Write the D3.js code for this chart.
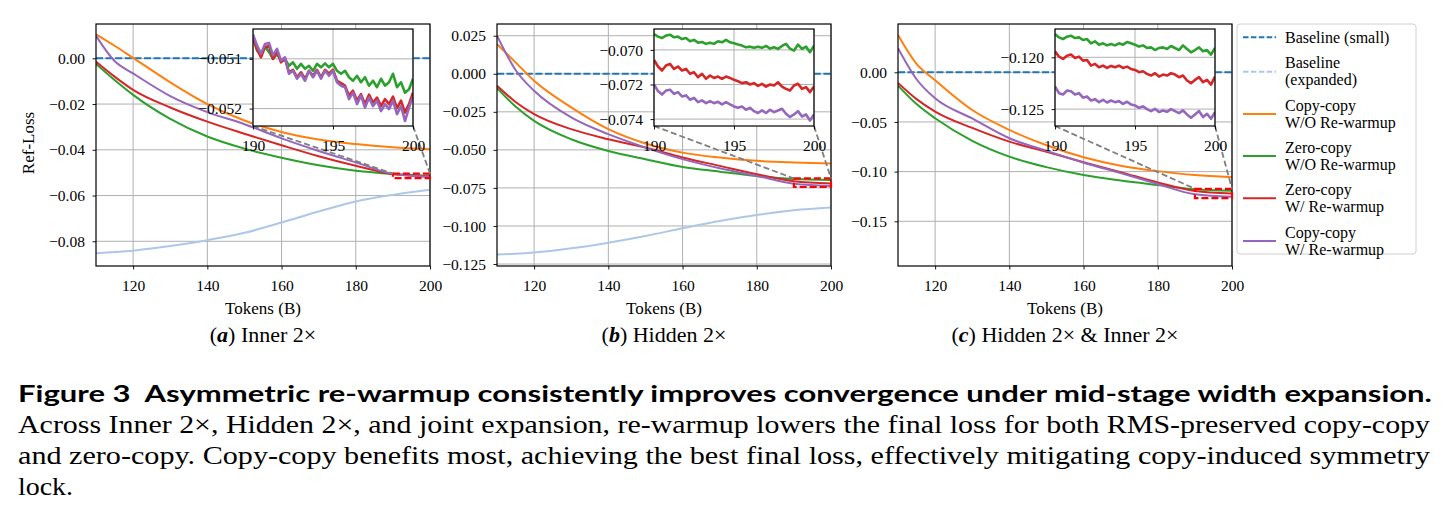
<!DOCTYPE html>
<html>
<head>
<meta charset="utf-8">
<script src="https://cdn.jsdelivr.net/npm/d3@7"></script>
<style>
  body { margin: 0; background: #fff; }
  svg text { font-family: "Liberation Serif", "Times New Roman", serif; fill: #000; }
</style>
</head>
<body>
<div id="chart"></div>
<script>
// ---- data ----
var tokens = [110, 115, 120, 130, 140, 150, 160, 170, 180, 190, 200];
var baselineSmall = [0, 0];                 // flat reference at x = 110 and 200

// (a) Inner 2x
var aCopyNoRw = [0.0105, 0.0055, 0.0002, -0.0105, -0.0200, -0.0272, -0.0322, -0.0355, -0.0375, -0.0389, -0.0398];
var aZeroNoRw = [-0.0025, -0.0095, -0.0160, -0.0265, -0.0342, -0.0395, -0.0435, -0.0468, -0.0492, -0.0506, -0.0514];
var aZeroRw   = [-0.0015, -0.0080, -0.0138, -0.0215, -0.0277, -0.0330, -0.0380, -0.0428, -0.0470, -0.0506, -0.0517];
var aCopyRw   = [0.0098, -0.0012, -0.0066, -0.0165, -0.0235, -0.0288, -0.0350, -0.0405, -0.0455, -0.0505, -0.0518];
var aBaseExp  = [-0.0852, -0.0847, -0.0841, -0.0821, -0.0795, -0.0763, -0.0718, -0.0670, -0.0626, -0.0597, -0.0575];

// (b) Hidden 2x
var bCopyNoRw = [0.0195, 0.0075, -0.0046, -0.0221, -0.0364, -0.0458, -0.0518, -0.0550, -0.0572, -0.0583, -0.0590];
var bZeroNoRw = [-0.0094, -0.0215, -0.0309, -0.0430, -0.0507, -0.0561, -0.0612, -0.0643, -0.0672, -0.0691, -0.0698];
var bZeroRw   = [-0.0079, -0.0185, -0.0265, -0.0364, -0.0430, -0.0485, -0.0550, -0.0605, -0.0660, -0.0706, -0.0721];
var bCopyRw   = [0.0250, 0.0025, -0.0112, -0.0287, -0.0397, -0.0485, -0.0561, -0.0621, -0.0671, -0.0722, -0.0737];
var bBaseExp  = [-0.1187, -0.1183, -0.1175, -0.1147, -0.1110, -0.1066, -0.1015, -0.0967, -0.0928, -0.0897, -0.0879];

// (c) Hidden 2x & Inner 2x
var cCopyNoRw = [0.0376, 0.0085, -0.0080, -0.0380, -0.0580, -0.0735, -0.0855, -0.0940, -0.0995, -0.1035, -0.1057];
var cZeroNoRw = [-0.0134, -0.0320, -0.0463, -0.0690, -0.0849, -0.0955, -0.1035, -0.1090, -0.1135, -0.1178, -0.1193];
var cZeroRw   = [-0.0107, -0.0270, -0.0395, -0.0560, -0.0698, -0.0800, -0.0905, -0.1005, -0.1110, -0.1194, -0.1219];
var cCopyRw   = [0.0242, -0.0070, -0.0262, -0.0465, -0.0664, -0.0790, -0.0910, -0.1015, -0.1125, -0.1228, -0.1253];
var cBaseExp  = [-0.1829, -0.1823, -0.1815, -0.1795, -0.1755, -0.1705, -0.1638, -0.1570, -0.1510, -0.1470, -0.1446];

// zoomed insets, 190..200 every 0.25 B tokens
var insetTokens = d3.range(0, 41).map(function(i) { return 190 + i * 0.25; });

var aInZeroNoRw = [-0.05059, -0.05083, -0.05093, -0.05076, -0.05086, -0.05100, -0.05090, -0.05103, -0.05100, -0.05114,
  -0.05107, -0.05120, -0.05110, -0.05120, -0.05114, -0.05124, -0.05110, -0.05117, -0.05109, -0.05117,
  -0.05110, -0.05124, -0.05130, -0.05124, -0.05137, -0.05144, -0.05134, -0.05147, -0.05137, -0.05154,
  -0.05144, -0.05157, -0.05140, -0.05154, -0.05147, -0.05130, -0.05157, -0.05147, -0.05168, -0.05161, -0.05140];
var aInZeroRw = [-0.05056, -0.05080, -0.05097, -0.05076, -0.05074, -0.05100, -0.05086, -0.05107, -0.05100, -0.05127,
  -0.05122, -0.05137, -0.05127, -0.05140, -0.05124, -0.05134, -0.05122, -0.05137, -0.05122, -0.05130,
  -0.05122, -0.05144, -0.05149, -0.05154, -0.05174, -0.05164, -0.05184, -0.05171, -0.05191, -0.05172,
  -0.05188, -0.05178, -0.05195, -0.05181, -0.05191, -0.05176, -0.05199, -0.05184, -0.05208, -0.05191, -0.05168];
var aInCopyRw = [-0.05051, -0.05073, -0.05090, -0.05070, -0.05068, -0.05093, -0.05080, -0.05103, -0.05097, -0.05130,
  -0.05124, -0.05140, -0.05130, -0.05144, -0.05124, -0.05137, -0.05124, -0.05140, -0.05124, -0.05134,
  -0.05124, -0.05147, -0.05154, -0.05157, -0.05181, -0.05168, -0.05191, -0.05174, -0.05198, -0.05178,
  -0.05195, -0.05184, -0.05205, -0.05191, -0.05201, -0.05184, -0.05211, -0.05195, -0.05225, -0.05198, -0.05176];

var bInZeroNoRw = [-0.06908, -0.06923, -0.06931, -0.06917, -0.06912, -0.06927, -0.06923, -0.06937, -0.06931, -0.06950,
  -0.06942, -0.06958, -0.06954, -0.06965, -0.06958, -0.06965, -0.06950, -0.06956, -0.06942, -0.06956,
  -0.06962, -0.06969, -0.06975, -0.06985, -0.06981, -0.06988, -0.06981, -0.06988, -0.06977, -0.06992,
  -0.06985, -0.06994, -0.06977, -0.06965, -0.06992, -0.07004, -0.06969, -0.06994, -0.06981, -0.07013, -0.06975];
var bInZeroRw = [-0.07058, -0.07096, -0.07119, -0.07090, -0.07081, -0.07110, -0.07096, -0.07119, -0.07110, -0.07138,
  -0.07129, -0.07158, -0.07138, -0.07167, -0.07148, -0.07162, -0.07154, -0.07167, -0.07154, -0.07162,
  -0.07173, -0.07181, -0.07192, -0.07187, -0.07200, -0.07192, -0.07208, -0.07196, -0.07212, -0.07200,
  -0.07206, -0.07187, -0.07212, -0.07225, -0.07235, -0.07206, -0.07196, -0.07225, -0.07215, -0.07244, -0.07212];
var bInCopyRw = [-0.07200, -0.07238, -0.07258, -0.07235, -0.07230, -0.07254, -0.07244, -0.07269, -0.07263, -0.07288,
  -0.07277, -0.07302, -0.07292, -0.07308, -0.07296, -0.07308, -0.07300, -0.07315, -0.07302, -0.07315,
  -0.07327, -0.07335, -0.07327, -0.07346, -0.07335, -0.07354, -0.07365, -0.07350, -0.07365, -0.07346,
  -0.07360, -0.07350, -0.07340, -0.07369, -0.07388, -0.07373, -0.07354, -0.07385, -0.07373, -0.07408, -0.07373];

var cInZeroNoRw = [-0.11776, -0.11808, -0.11824, -0.11801, -0.11792, -0.11814, -0.11808, -0.11833, -0.11824, -0.11865,
  -0.11846, -0.11878, -0.11865, -0.11885, -0.11872, -0.11885, -0.11865, -0.11878, -0.11853, -0.11865,
  -0.11878, -0.11897, -0.11885, -0.11910, -0.11904, -0.11930, -0.11910, -0.11904, -0.11920, -0.11891,
  -0.11910, -0.11930, -0.11885, -0.11920, -0.11952, -0.11930, -0.11904, -0.11942, -0.11930, -0.11974, -0.11910];
var cInZeroRw = [-0.11942, -0.11994, -0.12016, -0.11984, -0.11974, -0.12006, -0.11994, -0.12032, -0.12026, -0.12080,
  -0.12064, -0.12096, -0.12080, -0.12103, -0.12083, -0.12096, -0.12080, -0.12103, -0.12090, -0.12112,
  -0.12122, -0.12144, -0.12135, -0.12160, -0.12176, -0.12154, -0.12186, -0.12167, -0.12176, -0.12154,
  -0.12167, -0.12192, -0.12176, -0.12224, -0.12250, -0.12218, -0.12192, -0.12240, -0.12218, -0.12263, -0.12186];
var cInCopyRw = [-0.12282, -0.12346, -0.12359, -0.12321, -0.12327, -0.12359, -0.12346, -0.12390, -0.12378, -0.12417,
  -0.12404, -0.12433, -0.12410, -0.12436, -0.12417, -0.12433, -0.12423, -0.12449, -0.12429, -0.12455,
  -0.12465, -0.12487, -0.12474, -0.12500, -0.12519, -0.12497, -0.12529, -0.12513, -0.12526, -0.12500,
  -0.12519, -0.12538, -0.12513, -0.12551, -0.12583, -0.12551, -0.12519, -0.12577, -0.12545, -0.12593, -0.12529];

var xTicks = [120, 140, 160, 180, 200];
var aYTicks = [0.00, -0.02, -0.04, -0.06, -0.08];
var bYTicks = [0.025, 0.000, -0.025, -0.050, -0.075, -0.100, -0.125];
var cYTicks = [0.00, -0.05, -0.10, -0.15];
var insetXTicks = [190, 195, 200];
var aInYTicks = [-0.051, -0.052];
var bInYTicks = [-0.070, -0.072, -0.074];
var cInYTicks = [-0.120, -0.125];

var subLetters = ["a", "b", "c"];
var subTitles = ["Inner 2\u00d7", "Hidden 2\u00d7", "Hidden 2\u00d7 & Inner 2\u00d7"];

var legendLabels = [["Baseline (small)"], ["Baseline", "(expanded)"], ["Copy-copy", "W/O Re-warmup"],
  ["Zero-copy", "W/O Re-warmup"], ["Zero-copy", "W/ Re-warmup"], ["Copy-copy", "W/ Re-warmup"]];

var captionTitle = "Figure 3  Asymmetric re-warmup consistently improves convergence under mid-stage width expansion.";
var captionLines = [
  "Across Inner 2\u00d7, Hidden 2\u00d7, and joint expansion, re-warmup lowers the final loss for both RMS-preserved copy-copy",
  "and zero-copy. Copy-copy benefits most, achieving the best final loss, effectively mitigating copy-induced symmetry",
  "lock."
];

// ---- styling ----
var colors = ["#ff7f0e", "#2ca02c", "#d62728", "#9467bd"];   // copy W/O, zero W/O, zero W/, copy W/
var cBaseSmall = "#1f77b4", cBaseExp = "#aec7e8";
var legendColors = [cBaseSmall, cBaseExp].concat(colors);

var panels = [
  { left: 96,  yDomain: [-0.0908, 0.0150], yTicks: aYTicks, fmt: ".2f",
    lines: [aCopyNoRw, aZeroNoRw, aZeroRw, aCopyRw], baseExp: aBaseExp,
    inDomain: [-0.05235, -0.05040], inTicks: aInYTicks, inLines: [aInZeroNoRw, aInZeroRw, aInCopyRw] },
  { left: 497, yDomain: [-0.1263, 0.0327], yTicks: bYTicks, fmt: ".3f",
    lines: [bCopyNoRw, bZeroNoRw, bZeroRw, bCopyRw], baseExp: bBaseExp,
    inDomain: [-0.07440, -0.06879], inTicks: bInYTicks, inLines: [bInZeroNoRw, bInZeroRw, bInCopyRw] },
  { left: 898, yDomain: [-0.1950, 0.0486], yTicks: cYTicks, fmt: ".2f",
    lines: [cCopyNoRw, cZeroNoRw, cZeroRw, cCopyRw], baseExp: cBaseExp,
    inDomain: [-0.12663, -0.11727], inTicks: cInYTicks, inLines: [cInZeroNoRw, cInZeroRw, cInCopyRw] }
];

var W = 1448, H = 524;
var pw = 334, plotTop = 24, ph = 242;
var inset = { dx: 157, dy: 5, w: 160, h: 97 };
var tickFont = 15.5;
var baseDash = "7,2.6";

var svg = d3.select("#chart").append("svg").attr("width", W).attr("height", H);

panels.forEach(function(p, pi) {
  var g = svg.append("g").attr("transform", "translate(" + p.left + "," + plotTop + ")");
  var x = d3.scaleLinear().domain([110, 200]).range([0, pw]);
  var y = d3.scaleLinear().domain(p.yDomain).range([ph, 0]);

  g.append("clipPath").attr("id", "clip" + pi).append("rect").attr("width", pw).attr("height", ph);

  // grid
  g.append("g").selectAll("line").data(xTicks).enter().append("line")
    .attr("x1", x).attr("x2", x).attr("y1", 0).attr("y2", ph)
    .attr("stroke", "#b0b0b0").attr("stroke-width", 1);
  g.append("g").selectAll("line").data(p.yTicks).enter().append("line")
    .attr("y1", y).attr("y2", y).attr("x1", 0).attr("x2", pw)
    .attr("stroke", "#b0b0b0").attr("stroke-width", 1);

  var lines = g.append("g").attr("clip-path", "url(#clip" + pi + ")");
  var line = d3.line().curve(d3.curveMonotoneX)
    .x(function(d, i) { return x(tokens[i]); })
    .y(function(d) { return y(d); });

  lines.append("line")
    .attr("x1", x(110)).attr("x2", x(200))
    .attr("y1", y(baselineSmall[0])).attr("y2", y(baselineSmall[1]))
    .attr("stroke", cBaseSmall).attr("stroke-width", 2).attr("stroke-dasharray", baseDash);
  lines.append("path").attr("d", line(p.baseExp))
    .attr("fill", "none").attr("stroke", cBaseExp).attr("stroke-width", 2);
  p.lines.forEach(function(s, si) {
    lines.append("path").attr("d", line(s))
      .attr("fill", "none").attr("stroke", colors[si]).attr("stroke-width", 2);
  });

  // axes
  var xAxis = d3.axisBottom(x).tickValues(xTicks).tickSize(3.5).tickFormat(d3.format("d"));
  var yAxis = d3.axisLeft(y).tickValues(p.yTicks).tickSize(3.5).tickFormat(d3.format(p.fmt));
  var gx = g.append("g").attr("transform", "translate(0," + ph + ")").call(xAxis);
  var gy = g.append("g").call(yAxis);
  [gx, gy].forEach(function(a) {
    a.attr("font-family", null);
    a.select(".domain").remove();
    a.selectAll("line").attr("stroke", "#000").attr("stroke-width", 0.9);
    a.selectAll("text").style("font-size", tickFont + "px").attr("fill", "#000");
  });
  gx.selectAll("text").attr("dy", null).attr("y", 24.5);
  gy.selectAll("text").attr("dy", "0.33em").attr("x", -11);

  g.append("rect").attr("width", pw).attr("height", ph)
    .attr("fill", "none").attr("stroke", "#000").attr("stroke-width", 1.2);

  // zoom box and connectors
  var rx0 = x(190), rx1 = x(200), ry0 = y(p.inDomain[1]), ry1 = y(p.inDomain[0]);
  g.append("rect").attr("x", rx0).attr("y", ry0).attr("width", rx1 - rx0).attr("height", ry1 - ry0)
    .attr("fill", "none").attr("stroke", "#ff0000").attr("stroke-width", 2.2).attr("stroke-dasharray", "7,3");
  var ix0 = inset.dx, ix1 = inset.dx + inset.w, iyb = inset.dy + inset.h;
  [[ix0, rx0], [ix1, rx1]].forEach(function(c) {
    g.append("line").attr("x1", c[0]).attr("y1", iyb).attr("x2", c[1]).attr("y2", ry0)
      .attr("stroke", "#7f7f7f").attr("stroke-width", 1.8).attr("stroke-dasharray", "6,3");
  });

  // inset
  var ig = g.append("g").attr("transform", "translate(" + inset.dx + "," + inset.dy + ")");
  var ixs = d3.scaleLinear().domain([190, 200]).range([0, inset.w]);
  var iys = d3.scaleLinear().domain(p.inDomain).range([inset.h, 0]);
  ig.append("rect").attr("width", inset.w).attr("height", inset.h).attr("fill", "#fff");
  ig.append("clipPath").attr("id", "iclip" + pi).append("rect").attr("width", inset.w).attr("height", inset.h);
  ig.append("g").selectAll("line").data(insetXTicks).enter().append("line")
    .attr("x1", ixs).attr("x2", ixs).attr("y1", 0).attr("y2", inset.h)
    .attr("stroke", "#b0b0b0").attr("stroke-width", 1);
  ig.append("g").selectAll("line").data(p.inTicks).enter().append("line")
    .attr("y1", iys).attr("y2", iys).attr("x1", 0).attr("x2", inset.w)
    .attr("stroke", "#b0b0b0").attr("stroke-width", 1);
  var iline = d3.line()
    .x(function(d, i) { return ixs(insetTokens[i]); })
    .y(function(d) { return iys(d); });
  var il = ig.append("g").attr("clip-path", "url(#iclip" + pi + ")");
  p.inLines.forEach(function(s, si) {
    il.append("path").attr("d", iline(s))
      .attr("fill", "none").attr("stroke", colors[si + 1]).attr("stroke-width", 2.6)
      .attr("stroke-linejoin", "round");
  });
  var igx = ig.append("g").attr("transform", "translate(0," + inset.h + ")")
    .call(d3.axisBottom(ixs).tickValues(insetXTicks).tickSize(3.5).tickFormat(d3.format("d")));
  var igy = ig.append("g")
    .call(d3.axisLeft(iys).tickValues(p.inTicks).tickSize(3.5).tickFormat(d3.format(".3f")));
  [igx, igy].forEach(function(a) {
    a.attr("font-family", null);
    a.select(".domain").remove();
    a.selectAll("line").attr("stroke", "#000").attr("stroke-width", 0.9);
    a.selectAll("text").style("font-size", tickFont + "px").attr("fill", "#000");
  });
  igx.selectAll("text").attr("dy", null).attr("y", 25);
  igy.selectAll("text").attr("dy", "0.33em").attr("x", -11);
  ig.append("rect").attr("width", inset.w).attr("height", inset.h)
    .attr("fill", "none").attr("stroke", "#000").attr("stroke-width", 1.2);

  // labels
  g.append("text").attr("x", pw / 2).attr("y", 290).attr("text-anchor", "middle")
    .style("font-size", "17px").text("Tokens (B)");
  if (pi === 0) {
    g.append("text").attr("transform", "translate(-62," + (ph / 2 - 2) + ") rotate(-90)")
      .attr("text-anchor", "middle").style("font-size", "17px").text("Ref-Loss");
  }
  var st = g.append("text").attr("x", pw / 2).attr("y", 318).attr("text-anchor", "middle")
    .style("font-size", "22px");
  st.append("tspan").text("(");
  st.append("tspan").style("font-weight", "bold").style("font-style", "italic").text(subLetters[pi]);
  st.append("tspan").text(") " + subTitles[pi]);
});

// legend
var lg = svg.append("g").attr("transform", "translate(1237,24)");
lg.append("rect").attr("width", 179).attr("height", 230).attr("rx", 3)
  .attr("fill", "#fff").attr("stroke", "#d0d0d0").attr("stroke-width", 1);
var handleY = [13.3, 47.7, 90, 132, 174.3, 217];
legendLabels.forEach(function(lab, i) {
  lg.append("line").attr("x1", 6).attr("x2", 39).attr("y1", handleY[i]).attr("y2", handleY[i])
    .attr("stroke", legendColors[i]).attr("stroke-width", 2)
    .attr("stroke-dasharray", i < 2 ? "5.5,2.4" : null);
  lab.forEach(function(t, j) {
    var cy = lab.length === 1 ? handleY[i] : handleY[i] - 8.5 + j * 17;
    lg.append("text").attr("x", 48).attr("y", cy).attr("dy", "0.33em")
      .style("font-size", "16px").text(t);
  });
});

// caption
svg.append("text").attr("x", 18).attr("y", 402).attr("textLength", 1414).attr("lengthAdjust", "spacingAndGlyphs")
  .style("font-family", "Lato, 'Noto Sans', sans-serif").style("font-weight", "700").style("font-size", "23px")
  .attr("xml:space", "preserve").text(captionTitle);
captionLines.forEach(function(t, i) {
  var tx = svg.append("text").attr("x", 18).attr("y", 433 + i * 31).style("font-size", "26px").text(t);
  if (i < 2) tx.attr("textLength", 1412).attr("lengthAdjust", "spacingAndGlyphs");
  else tx.attr("textLength", 55).attr("lengthAdjust", "spacingAndGlyphs");
});
</script>
</body>
</html>
